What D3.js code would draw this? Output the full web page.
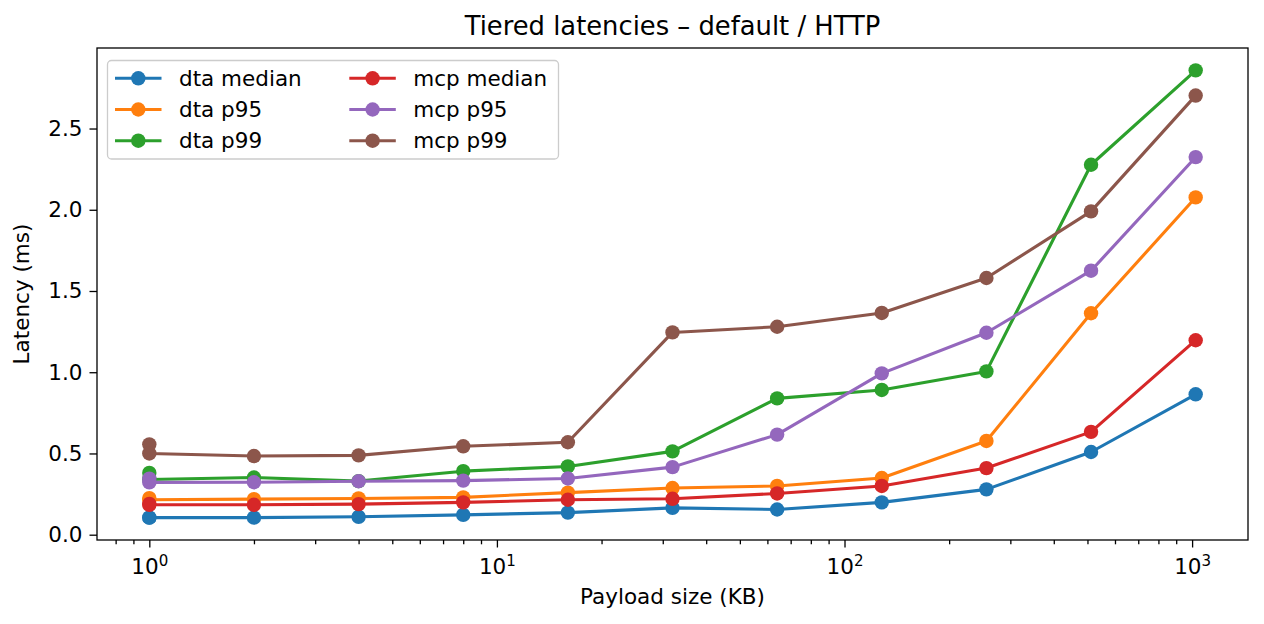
<!DOCTYPE html>
<html>
<head>
<meta charset="utf-8">
<script src="https://cdn.jsdelivr.net/npm/d3@7"></script>
<style>
  body { margin: 0; background: #fff; }
  text { font-family: "DejaVu Sans", sans-serif; fill: #000; }
</style>
</head>
<body>
<div id="chart"></div>
<script>
// Payload sizes (KB) — the first size appears twice in the run
const payloadKB = [1, 1, 2, 4, 8, 16, 32, 64, 128, 256, 512, 1024];

const dtaMedian = [0.105, 0.105, 0.105, 0.11, 0.122, 0.136, 0.165, 0.155, 0.199, 0.279, 0.509, 0.864];
const dtaP95    = [0.225, 0.215, 0.219, 0.223, 0.23, 0.259, 0.287, 0.30, 0.349, 0.577, 1.363, 2.076];
const dtaP99    = [0.38, 0.34, 0.352, 0.33, 0.391, 0.42, 0.513, 0.839, 0.891, 1.005, 2.277, 2.858];
const mcpMedian = [0.19, 0.184, 0.184, 0.188, 0.199, 0.215, 0.221, 0.254, 0.30, 0.41, 0.633, 1.197];
const mcpP95    = [0.345, 0.322, 0.323, 0.329, 0.333, 0.346, 0.416, 0.616, 0.993, 1.243, 1.625, 2.324];
const mcpP99    = [0.556, 0.50, 0.484, 0.488, 0.544, 0.569, 1.245, 1.28, 1.365, 1.58, 1.99, 2.703];

const seriesNames = ['dta median', 'dta p95', 'dta p99', 'mcp median', 'mcp p95', 'mcp p99'];
const seriesValues = [dtaMedian, dtaP95, dtaP99, mcpMedian, mcpP95, mcpP99];
const colors = ['#1f77b4', '#ff7f0e', '#2ca02c', '#d62728', '#9467bd', '#8c564b'];

const yTicks = [0, 0.5, 1.0, 1.5, 2.0, 2.5];
const xMajor = [1, 10, 100, 1000];

const width = 1264, height = 624;
const margin = { left: 97, right: 1264 - 1248, top: 48, bottom: 624 - 540 };
const fs = 21.5; // 10pt at this figure's dpi
const lw = 3.1;  // 1.5pt
const mr = 7.2;  // marker radius

const svg = d3.select('#chart').append('svg')
  .attr('width', width).attr('height', height)
  .attr('viewBox', `0 0 ${width} ${height}`);

// matplotlib-ish 5% autoscale margins
const lx0 = Math.log10(d3.min(payloadKB)), lx1 = Math.log10(d3.max(payloadKB));
const padX = (lx1 - lx0) * 0.05;
const x = d3.scaleLog()
  .domain([Math.pow(10, lx0 - padX), Math.pow(10, lx1 + padX)])
  .range([margin.left, width - margin.right]);

const allY = seriesValues.flat();
const yMin = d3.min(allY), yMax = d3.max(allY);
const padY = (yMax - yMin) * 0.05;
const y = d3.scaleLinear()
  .domain([yMin - padY, yMax + padY])
  .range([height - margin.bottom, margin.top]);

const plotG = svg.append('g');

// lines + markers, series in order
seriesValues.forEach((vals, i) => {
  const pts = vals.map((v, j) => [payloadKB[j], v]);
  const line = d3.line().x((d) => x(d[0])).y((d) => y(d[1]));
  const g = plotG.append('g');
  g.append('path')
    .attr('d', line(pts))
    .attr('fill', 'none')
    .attr('stroke', colors[i])
    .attr('stroke-width', lw)
    .attr('stroke-linejoin', 'round')
    .attr('stroke-linecap', 'square');
  g.selectAll('circle')
    .data(pts)
    .join('circle')
    .attr('cx', (d) => x(d[0]))
    .attr('cy', (d) => y(d[1]))
    .attr('r', mr)
    .attr('fill', colors[i]);
});

// axes
const xAxis = d3.axisBottom(x)
  .tickValues(xMajor)
  .tickSize(7.5)
  .tickFormat(() => '');
const xMinorTicks = [];
for (let e = -1; e <= 3; e++) {
  for (let m = 2; m <= 9; m++) {
    const v = m * Math.pow(10, e);
    if (v >= x.domain()[0] && v <= x.domain()[1]) xMinorTicks.push(v);
  }
}
const xMinor = d3.axisBottom(x)
  .tickValues(xMinorTicks)
  .tickSize(4.3)
  .tickFormat(() => '');

const gx = svg.append('g')
  .attr('transform', `translate(0,${height - margin.bottom})`)
  .call(xAxis);
svg.append('g')
  .attr('transform', `translate(0,${height - margin.bottom})`)
  .call(xMinor)
  .call((g) => g.select('.domain').remove());

gx.selectAll('.tick').each(function (d) {
  const t = d3.select(this).append('text')
    .attr('y', 34)
    .attr('text-anchor', 'middle')
    .style('font-size', fs + 'px')
    .style('fill', '#000');
  t.append('tspan').text('10');
  t.append('tspan')
    .attr('dy', -8.5)
    .style('font-size', (fs * 0.7) + 'px')
    .text(String(Math.round(Math.log10(d))));
});

const gy = svg.append('g')
  .attr('transform', `translate(${margin.left},0)`)
  .call(d3.axisLeft(y).tickValues(yTicks).tickSize(7.5).tickPadding(7).tickFormat(d3.format('.1f')));
gy.selectAll('.tick text')
  .style('font-size', fs + 'px')
  .style('font-family', '"DejaVu Sans", sans-serif');

[gx, gy].forEach((g) => g.select('.domain').remove());
svg.selectAll('.tick line').attr('stroke', '#000').attr('stroke-width', 1.3);

// frame
svg.append('rect')
  .attr('x', margin.left).attr('y', margin.top)
  .attr('width', width - margin.left - margin.right)
  .attr('height', height - margin.top - margin.bottom)
  .attr('fill', 'none')
  .attr('stroke', '#000')
  .attr('stroke-width', 1.3);

// title & axis labels
svg.append('text')
  .attr('x', (margin.left + width - margin.right) / 2)
  .attr('y', 35)
  .attr('text-anchor', 'middle')
  .style('font-size', (fs * 1.2) + 'px')
  .text('Tiered latencies – default / HTTP');

svg.append('text')
  .attr('x', (margin.left + width - margin.right) / 2)
  .attr('y', 604)
  .attr('text-anchor', 'middle')
  .style('font-size', fs + 'px')
  .text('Payload size (KB)');

svg.append('text')
  .attr('transform', `translate(29,${(margin.top + height - margin.bottom) / 2}) rotate(-90)`)
  .attr('text-anchor', 'middle')
  .style('font-size', fs + 'px')
  .text('Latency (ms)');

// legend
const legend = svg.append('g');
legend.append('rect')
  .attr('x', 107.5).attr('y', 60.5)
  .attr('width', 451).attr('height', 98.5)
  .attr('rx', 4)
  .attr('fill', '#fff').attr('fill-opacity', 0.8)
  .attr('stroke', '#cccccc').attr('stroke-width', 1.3);

const rowY = [78.3, 109.5, 140.7];
const colX = [115, 349.3];
seriesNames.forEach((name, i) => {
  const col = Math.floor(i / 3), row = i % 3;
  const lx = colX[col], ly = rowY[row];
  legend.append('line')
    .attr('x1', lx).attr('x2', lx + 46.5)
    .attr('y1', ly).attr('y2', ly)
    .attr('stroke', colors[i]).attr('stroke-width', lw);
  legend.append('circle')
    .attr('cx', lx + 23.3).attr('cy', ly).attr('r', mr)
    .attr('fill', colors[i]);
  legend.append('text')
    .attr('x', lx + 64).attr('y', ly + 7.7)
    .style('font-size', fs + 'px')
    .text(name);
});
</script>
</body>
</html>
